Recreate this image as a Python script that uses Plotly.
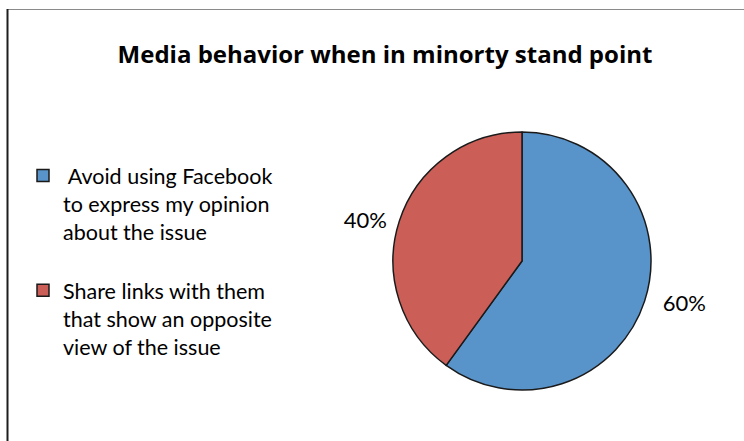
import plotly.graph_objects as go

labels = ["\u00a0Avoid using Facebook<br>to express my opinion<br>about the issue<br>",
          "Share links with them<br>that show an opposite<br>view of the issue"]
values = [60, 40]
colors = ["#5893C9", "#CB5F58"]
title_text = "Media behavior when in minorty stand point"

W, H = 744, 441
cx, cy, r = 522, 261, 129

fig = go.Figure(go.Pie(
    labels=labels,
    values=values,
    sort=False,
    direction="clockwise",
    rotation=0,
    marker=dict(colors=colors, line=dict(color="#1a1a1a", width=1.5)),
    textinfo="percent",
    textposition="outside",
    texttemplate=["\u00a0\u00a0%{percent:.0%}", "%{percent:.0%}\u00a0"],
    textfont=dict(family="Lato", size=22, color="#000000"),
    hoverinfo="skip",
    domain=dict(x=[(cx - r) / W, (cx + r) / W], y=[1 - (cy + r) / H, 1 - (cy - r) / H]),
))

fig.update_layout(
    width=W, height=H,
    margin=dict(l=0, r=0, t=0, b=0),
    paper_bgcolor="white",
    plot_bgcolor="white",
    title=dict(text="<b>" + title_text + "</b>", x=385 / W, xanchor="center",
               y=1 - 55 / H, yanchor="middle",
               font=dict(family="Open Sans", size=24, color="#000000")),
    legend=dict(x=23 / W, xanchor="left", y=1 - 155 / H, yanchor="top",
                valign="top", font=dict(family="Lato", size=21.5, color="#000000"),
                bgcolor="rgba(0,0,0,0)", itemclick=False, itemdoubleclick=False),
    shapes=[
        dict(type="line", xref="paper", yref="paper", x0=8 / W, x1=1.0,
             y0=1 - 9.5 / H, y1=1 - 9.5 / H, line=dict(color="#8a8a8a", width=1.2)),
        dict(type="line", xref="paper", yref="paper", x0=7.5 / W, x1=7.5 / W,
             y0=1 - 9 / H, y1=0, line=dict(color="#1e1e1e", width=2)),
    ],
)

fig.write_html("out.html", config={"displayModeBar": False},
               post_script="document.body.style.margin='0';")
